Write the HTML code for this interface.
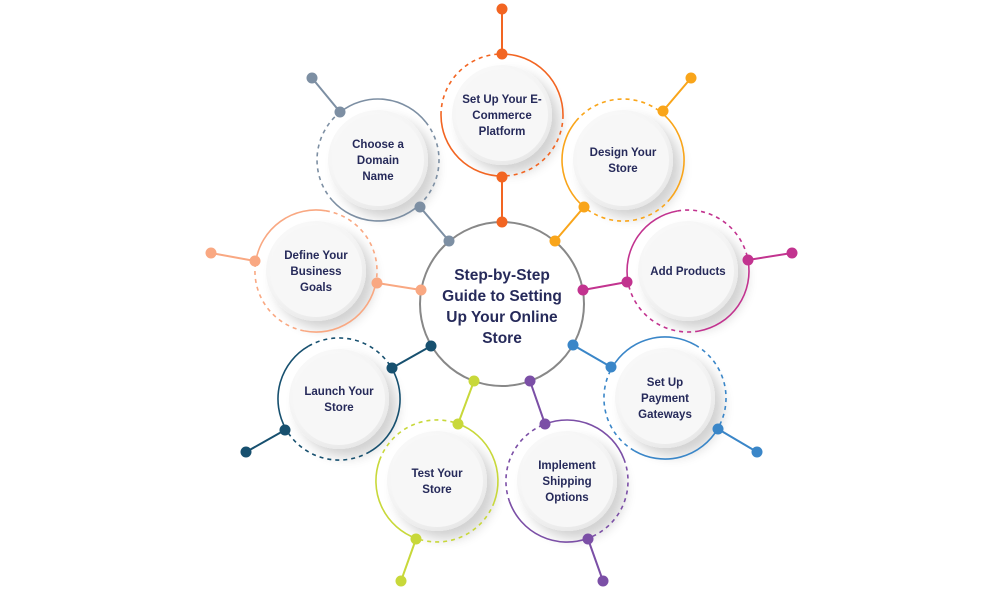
<!DOCTYPE html>
<html><head><meta charset="utf-8"><style>
html,body{margin:0;padding:0;background:#fff;width:1004px;height:591px;overflow:hidden}
svg text{font-family:"Liberation Sans",sans-serif;font-weight:bold;fill:#262a5a;text-anchor:middle}
</style></head><body>
<svg id="s" width="1004" height="591" viewBox="0 0 1004 591" xmlns="http://www.w3.org/2000/svg">
<defs>
<filter id="sh" x="-50%" y="-50%" width="250%" height="250%">
<feGaussianBlur in="SourceAlpha" stdDeviation="6"/>
<feOffset dx="8" dy="8" result="b"/>
<feComponentTransfer><feFuncA type="linear" slope="0.18"/></feComponentTransfer>
<feMerge><feMergeNode/><feMergeNode in="SourceGraphic"/></feMerge>
</filter>
<radialGradient id="g" cx="40%" cy="35%" r="70%">
<stop offset="0" stop-color="#ffffff"/><stop offset="0.7" stop-color="#f4f4f4"/><stop offset="1" stop-color="#e6e6e6"/>
</radialGradient>
</defs>
<g id="root"></g>
</svg>
<script>
const C={x:502,y:304,r:82};
const items=[
 {c:'#f26522',cx:502,cy:115,d1:[502,54],d2:[502,177],o:[502,9],i:[502,222],t:['Set Up Your E-','Commerce','Platform']},
 {c:'#f9a51a',cx:623,cy:160,d1:[663,111],d2:[584,207],o:[691,78],i:[555,241],t:['Design Your','Store']},
 {c:'#c2338f',cx:688,cy:271,d1:[748,260],d2:[627,282],o:[792,253],i:[583,290],t:['Add Products']},
 {c:'#3a86c8',cx:665,cy:398,d1:[718,429],d2:[611,367],o:[757,452],i:[573,345],t:['Set Up','Payment','Gateways']},
 {c:'#7b4fa6',cx:567,cy:481,d1:[588,539],d2:[545,424],o:[603,581],i:[530,381],t:['Implement','Shipping','Options']},
 {c:'#c8d83a',cx:437,cy:481,d1:[458,424],d2:[416,539],o:[401,581],i:[474,381],t:['Test Your','Store']},
 {c:'#17506f',cx:339,cy:399,d1:[392,368],d2:[285,430],o:[246,452],i:[431,346],t:['Launch Your','Store']},
 {c:'#f9a882',cx:316,cy:271,d1:[377,283],d2:[255,261],o:[211,253],i:[421,290],t:['Define Your','Business','Goals']},
 {c:'#7d8fa3',cx:378,cy:160,d1:[420,207],d2:[340,112],o:[312,78],i:[449,241],t:['Choose a','Domain','Name']}
];
const R=61;
function arc(cx,cy,a0,a1){const p=a=>[cx+R*Math.cos(a),cy+R*Math.sin(a)];const s=p(a0),e=p(a1);return `M${s[0].toFixed(1)} ${s[1].toFixed(1)} A${R} ${R} 0 0 1 ${e[0].toFixed(1)} ${e[1].toFixed(1)}`;}
const dist=(a,b)=>Math.hypot(a[0]-b[0],a[1]-b[1]);
let lines='',rings='',circles='',dots='';
items.forEach(it=>{
 const near=dist(it.d1,it.i)<dist(it.d2,it.i)?it.d1:it.d2;
 const far=dist(it.d1,it.o)<dist(it.d2,it.o)?it.d1:it.d2;
 lines+=`<line x1="${far[0]}" y1="${far[1]}" x2="${it.o[0]}" y2="${it.o[1]}" stroke="${it.c}" stroke-width="2"/>`;
 lines+=`<line x1="${near[0]}" y1="${near[1]}" x2="${it.i[0]}" y2="${it.i[1]}" stroke="${it.c}" stroke-width="2"/>`;
 [it.d1,it.d2].forEach(d=>{const a=Math.atan2(d[1]-it.cy,d[0]-it.cx);
  rings+=`<path d="${arc(it.cx,it.cy,a,a+Math.PI/2)}" fill="none" stroke="${it.c}" stroke-width="1.6"/>`;
  rings+=`<path d="${arc(it.cx,it.cy,a+Math.PI/2,a+Math.PI)}" fill="none" stroke="${it.c}" stroke-width="1.6" stroke-dasharray="4 4"/>`;});
 circles+=`<circle cx="${it.cx}" cy="${it.cy}" r="50" fill="url(#g)" filter="url(#sh)"/><circle cx="${it.cx}" cy="${it.cy}" r="46" fill="#f7f7f7"/>`;
 const n=it.t.length,y0=it.cy-(n-1)*8+4;
 it.t.forEach((s,k)=>{circles+=`<text x="${it.cx}" y="${y0+k*16}" font-size="11.5">${s}</text>`});
 [it.d1,it.d2,it.o,it.i].forEach(d=>{dots+=`<circle cx="${d[0]}" cy="${d[1]}" r="5.5" fill="${it.c}"/>`});
});
const center=`<circle cx="${C.x}" cy="${C.y}" r="${C.r}" fill="#fff" stroke="#888" stroke-width="2"/>`+
['Step-by-Step','Guide to Setting','Up Your Online','Store'].map((s,k)=>`<text x="502" y="${280+k*21}" font-size="15.5">${s}</text>`).join('');
document.getElementById('root').innerHTML=lines+center+circles+rings+dots;
</script>
</body></html>
